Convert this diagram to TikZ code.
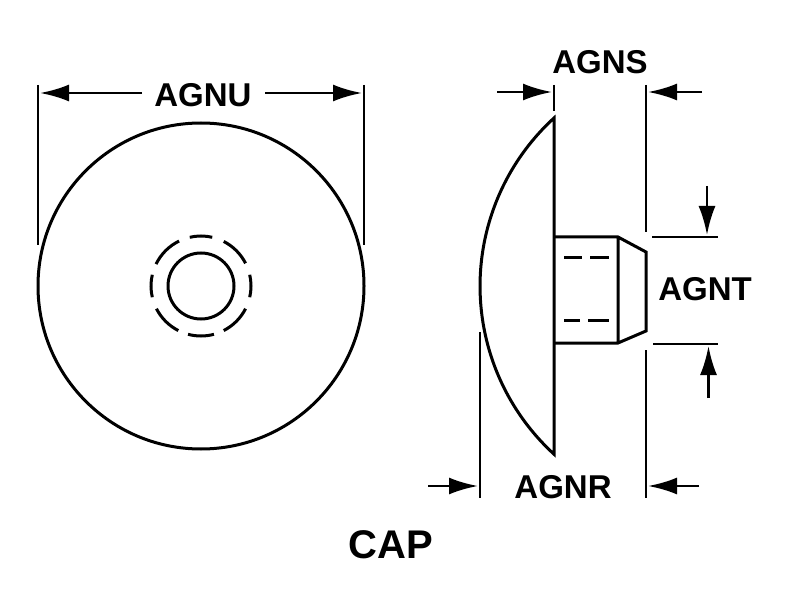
\documentclass[tikz,border=0pt]{standalone}
\usepackage{fontspec}
\setmainfont{Liberation Sans}
\usetikzlibrary{arrows.meta}
\begin{document}
\begin{tikzpicture}[x=1pt,y=-1pt]
	\tikzstyle{outline}=[line width=3pt]
	\tikzstyle{extline}=[line width=2.7pt]
	\tikzstyle{dimline}=[line width=2.7pt,-{Latex[length=29pt,width=17pt]}]
	\tikzstyle{dimlabel}=[font=\fontsize{33}{33}\bfseries\selectfont,inner sep=0pt]
	\useasboundingbox (0,0) rectangle (787,604);
	% front view
	\coordinate (c_1) at (201,286);
	\draw[outline] (c_1) circle [radius=163pt];
	\draw[outline] (c_1) circle [radius=33pt];
	\foreach \a/\h in {0/13,45/18,90/13,135/19,180/13,225/18,270/15,315/18}
		\draw[outline] ([shift={(\a-\h:50pt)}]c_1) arc [start angle=\a-\h,end angle=\a+\h,radius=50pt];
	% side view
	\coordinate (d_1) at (554,118);
	\coordinate (d_2) at (554,455);
	\coordinate (s_1) at (554,237);
	\coordinate (s_2) at (618,237);
	\coordinate (s_3) at (646,252);
	\coordinate (s_4) at (646,331);
	\coordinate (s_5) at (618,343);
	\coordinate (s_6) at (554,343);
	\draw[outline] (d_1) arc [start angle=132.5,end angle=227.5,radius=228pt] -- cycle;
	\draw[outline] (s_1) -- (s_2) -- (s_3) -- (s_4) -- (s_5) -- (s_6) (s_2) -- (s_5);
	\foreach \y/\p/\q/\r/\s in {257/564/582/590/609,320/564/580/588/609}
		\draw[outline] (\p,\y) -- (\q,\y) (\r,\y) -- (\s,\y);
	% extension lines
	\draw[extline] (38,85) -- (38,245) (364,85) -- (364,245);
	\draw[extline] (554,85) -- (554,111) (646,85) -- (646,232) (646,350) -- (646,498) (480,332) -- (480,498);
	\draw[extline] (652,237) -- (718,237) (653,344) -- (718,344);
	% labels
	\node[dimlabel] (l_u) at (203,95) {AGNU};
	\node[dimlabel] (l_s) at (600,62) {AGNS};
	\node[dimlabel] (l_t) at (705,289) {AGNT};
	\node[dimlabel] (l_r) at (563,487) {AGNR};
	\node[font=\fontsize{40}{40}\bfseries\selectfont,inner sep=0pt] (l_c) at (390.5,545) {CAP};
	% arrows
	\coordinate (a_1) at (142,93);
	\coordinate (b_1) at (40,93);
	\coordinate (a_2) at (265,93);
	\coordinate (b_2) at (362,93);
	\coordinate (a_3) at (497,92);
	\coordinate (b_3) at (552,92);
	\coordinate (a_4) at (702,92);
	\coordinate (b_4) at (648,92);
	\coordinate (a_5) at (707,186);
	\coordinate (b_5) at (707,235);
	\coordinate (a_6) at (708.5,398);
	\coordinate (b_6) at (708.5,346);
	\coordinate (a_7) at (428,486);
	\coordinate (b_7) at (478,486);
	\coordinate (a_8) at (699,486);
	\coordinate (b_8) at (648,486);
	\foreach \i in {1,...,8}
		\draw[dimline] (a_\i) -- (b_\i);
\end{tikzpicture}
\end{document}
